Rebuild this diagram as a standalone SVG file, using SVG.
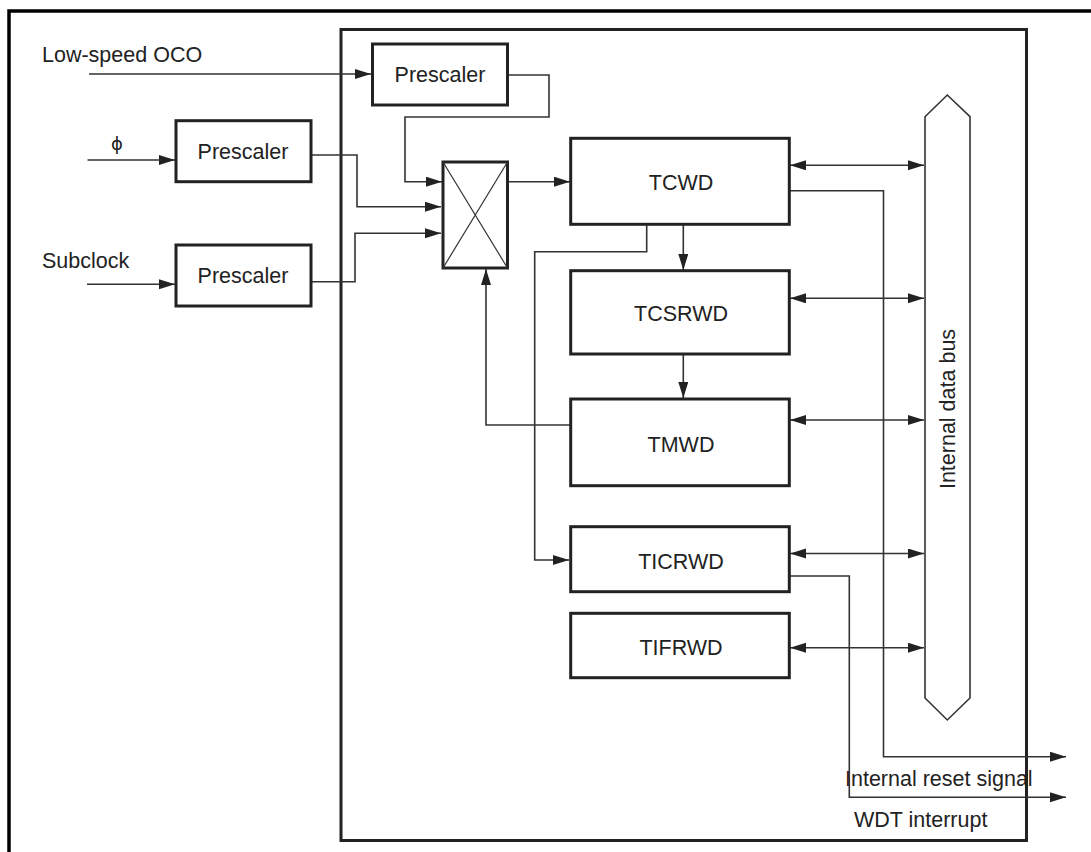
<svg xmlns="http://www.w3.org/2000/svg" width="1091" height="852" viewBox="0 0 1091 852">
<style>
.box{fill:#fff;stroke:#222;stroke-width:3}
.frame{fill:none;stroke:#000;stroke-width:3.5}
.inner{fill:none;stroke:#222;stroke-width:3}
.ln{fill:none;stroke:#333;stroke-width:1.6}
.thin{fill:none;stroke:#333;stroke-width:1.2}
.t{font-family:"Liberation Sans",Arial,sans-serif;font-size:21.5px;fill:#222}
.c{text-anchor:middle}
</style>
<defs>
<marker id="ah" markerUnits="userSpaceOnUse" markerWidth="17" markerHeight="11" refX="16" refY="5" orient="auto-start-reverse">
<path d="M0,0 L16,5 L0,10 z" fill="#222"/>
</marker>
</defs>
<rect width="1091" height="852" fill="#fff"/>
<path class="frame" d="M9,852 V11 H1091"/>
<rect class="inner" x="341" y="29.5" width="685.5" height="811"/>

<g id="labels">
<text class="t" x="42" y="62">Low-speed OCO</text>
<text x="117" y="150" text-anchor="middle" style="font-family:'DejaVu Sans','Liberation Sans',sans-serif;font-size:18px;fill:#222">ϕ</text>
<text class="t" x="42" y="267.5">Subclock</text>
<text class="t" x="845" y="786">Internal reset signal</text>
<text class="t" x="854" y="827">WDT interrupt</text>
</g>

<g id="connectors">
<path class="ln" d="M89,74 H371" marker-end="url(#ah)"/>
<path class="ln" d="M87.5,160 H175" marker-end="url(#ah)"/>
<path class="ln" d="M87,284.3 H175" marker-end="url(#ah)"/>
<path class="ln" d="M507.5,75 H549 V117 H405 V181.7 H442" marker-end="url(#ah)"/>
<path class="ln" d="M311,155 H357 V206.7 H441" marker-end="url(#ah)"/>
<path class="ln" d="M311,281.7 H355 V233.3 H441" marker-end="url(#ah)"/>
<path class="ln" d="M507.5,181.7 H570" marker-end="url(#ah)"/>
<path class="ln" d="M683.3,224.3 V270" marker-end="url(#ah)"/>
<path class="ln" d="M683.3,354 V398" marker-end="url(#ah)"/>
<path class="ln" d="M570,425 H486 V269" marker-end="url(#ah)"/>
<path class="ln" d="M646.7,224.3 V251.7 H534.7 V560 H569" marker-end="url(#ah)"/>
<path class="ln" d="M790,165.3 H924" marker-start="url(#ah)" marker-end="url(#ah)"/>
<path class="ln" d="M790,298.3 H924" marker-start="url(#ah)" marker-end="url(#ah)"/>
<path class="ln" d="M790,420 H924" marker-start="url(#ah)" marker-end="url(#ah)"/>
<path class="ln" d="M790,553.5 H924" marker-start="url(#ah)" marker-end="url(#ah)"/>
<path class="ln" d="M790,647.7 H924" marker-start="url(#ah)" marker-end="url(#ah)"/>
<path class="ln" d="M789,190.7 H883.5 V756.7 H1066" marker-end="url(#ah)"/>
<path class="ln" d="M789,576 H849.3 V797.3 H1066" marker-end="url(#ah)"/>
</g>

<g id="prescaler-oco">
<rect class="box" x="372.5" y="44" width="135" height="61"/>
<text class="t c" x="440" y="82">Prescaler</text>
</g>
<g id="prescaler-phi">
<rect class="box" x="176" y="120.7" width="135" height="61"/>
<text class="t c" x="243" y="159">Prescaler</text>
</g>
<g id="prescaler-sub">
<rect class="box" x="176" y="245" width="135" height="61"/>
<text class="t c" x="243" y="283">Prescaler</text>
</g>
<g id="selector">
<rect class="box" x="443" y="162" width="64.5" height="106"/>
<path class="thin" d="M443,162 L507.5,268 M507.5,162 L443,268"/>
</g>
<g id="tcwd">
<rect class="box" x="570.7" y="138.3" width="218.6" height="86"/>
<text class="t c" x="681" y="189.5">TCWD</text>
</g>
<g id="tcsrwd">
<rect class="box" x="570.7" y="270.7" width="218.6" height="83.3"/>
<text class="t c" x="681" y="320.5">TCSRWD</text>
</g>
<g id="tmwd">
<rect class="box" x="570.7" y="399" width="218.6" height="86.7"/>
<text class="t c" x="681" y="452">TMWD</text>
</g>
<g id="ticrwd">
<rect class="box" x="570.7" y="526.7" width="218.6" height="65"/>
<text class="t c" x="681" y="568.5">TICRWD</text>
</g>
<g id="tifrwd">
<rect class="box" x="570.7" y="613.3" width="218.6" height="64.4"/>
<text class="t c" x="681" y="654.5">TIFRWD</text>
</g>
<g id="bus">
<path d="M925,116.7 L947.3,95 L970,116.7 V698 L947.3,720 L925,698 Z" fill="#fff" stroke="#333" stroke-width="1.6"/>
<text class="t c" transform="translate(955,409) rotate(-90)">Internal data bus</text>
</g>
</svg>
